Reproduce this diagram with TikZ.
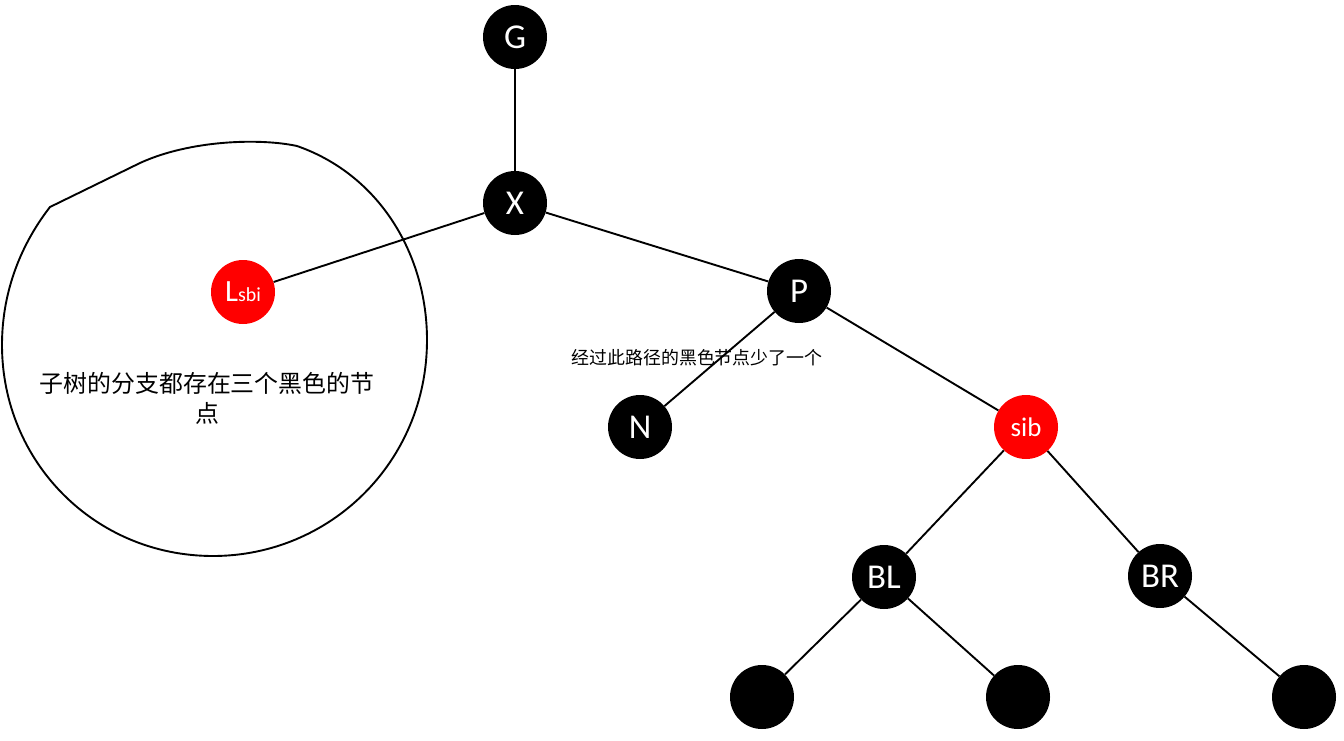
\documentclass[tikz,border=0pt]{standalone}
\usepackage{fontspec}
\setmainfont{Carlito}
\newfontfamily\cjk{Noto Sans CJK SC}
\usepackage{tikz}
\usetikzlibrary{shapes}

\tikzset{
  rbnode/.style={draw=none,circle,minimum size=64bp,inner sep=0pt,text=white,font=\fontsize{35}{40}\selectfont},
  blacknode/.style={rbnode,fill=black},
  rednode/.style={rbnode,fill=red},
  treeedge/.style={line width=1.9bp}
}

\begin{document}
\begin{tikzpicture}
\useasboundingbox (0bp,0bp) rectangle (1344bp,-741bp);

\node (G) at (515bp,-37bp)[blacknode] {G};
\node (X) at (515bp,-203bp)[blacknode] {X};
\node (Lsbi) at (243bp,-292bp)[rednode,font=\fontsize{31}{36}\selectfont] {L{\fontsize{20}{24}\selectfont sbi}};
\node (P) at (799bp,-291bp)[blacknode] {P};
\node (N) at (640bp,-427bp)[blacknode] {N};
\node (sib) at (1026bp,-427bp)[rednode,font=\fontsize{27}{30}\selectfont] {sib};
\node (BL) at (884bp,-577bp)[blacknode] {BL};
\node (BR) at (1160bp,-576bp)[blacknode] {BR};
\node (leafA) at (762bp,-697bp)[blacknode] {};
\node (leafB) at (1018bp,-697bp)[blacknode] {};
\node (leafC) at (1304bp,-697bp)[blacknode] {};

% notes
\node (subtree) at (207bp,-398bp)[align=center,font=\cjk\fontsize{24}{30}\selectfont] {子树的分支都存在三个黑色的节\\点};
\node (missing) at (697bp,-358bp)[font=\cjk\fontsize{18}{22}\selectfont] {经过此路径的黑色节点少了一个};

% subtree outline
\draw [line width=1.9bp] (297bp,-146bp) .. controls (380bp,-175bp) and (427bp,-255bp) .. (427bp,-340bp)
  .. controls (427bp,-462bp) and (330bp,-556bp) .. (213bp,-556bp)
  .. controls (95bp,-556bp) and (2bp,-462bp) .. (2bp,-345bp)
  .. controls (2bp,-290bp) and (22bp,-243bp) .. (50bp,-207bp)
  -- (140bp,-163bp) .. controls (190bp,-140bp) and (260bp,-138bp) .. (297bp,-146bp);

\draw [treeedge] (G) -- (X);
\draw [treeedge] (X) -- (Lsbi);
\draw [treeedge] (X) -- (P);
\draw [treeedge] (P) -- (N);
\draw [treeedge] (P) -- (sib);
\draw [treeedge] (sib) -- (BL);
\draw [treeedge] (sib) -- (BR);
\draw [treeedge] (BL) -- (leafA);
\draw [treeedge] (BL) -- (leafB);
\draw [treeedge] (BR) -- (leafC);
\end{tikzpicture}
\end{document}
